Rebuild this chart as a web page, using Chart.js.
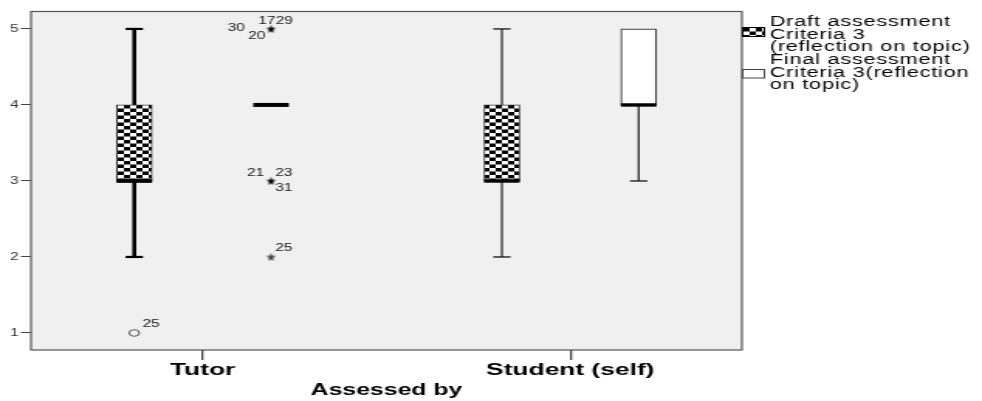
<!DOCTYPE html>
<html>
<head>
<meta charset="utf-8">
<script src="https://cdn.jsdelivr.net/npm/chart.js@4/dist/chart.umd.min.js"></script>
<style>
html,body{margin:0;padding:0;background:#fff;overflow:hidden;}
#wrap{width:982px;height:401px;overflow:hidden;}
#c{display:block;transform:scaleX(1.5489);transform-origin:0 0;}
</style>
</head>
<body>
<div id="wrap"><canvas id="c" width="634" height="401"></canvas></div>
<script>
// ---------------- data ----------------
const categories = ['Tutor', 'Student (self)'];
const yTickValues = [1, 2, 3, 4, 5];

const draftMin    = [2, 2];
const draftQ1     = [3, 3];
const draftMedian = [3, 3];
const draftQ3     = [4, 4];
const draftMax    = [5, 5];

const finalMin    = [4, 3];
const finalQ1     = [4, 4];
const finalMedian = [4, 4];
const finalQ3     = [4, 5];
const finalMax    = [4, 5];

// outliers (circle) of the draft series, Tutor group
const tutorDraftOutliers   = [1];
const tutorDraftOutlierIds = [['25']];
// extremes (star) of the final series, Tutor group
const tutorFinalExtremes   = [5, 3, 2];
const tutorFinalExtremeIds = [['17', '29', '30', '20'], ['21', '23', '31'], ['25']];

const seriesNames = [
  ['Draft assessment', 'Criteria 3', '(reflection on topic)'],
  ['Final assessment', 'Criteria 3(reflection', 'on topic)']
];
const axisTitle = 'Assessed by';

// ---------------- styles / layout ----------------
const SHIFT = 0.186;
const BOX_W = 23;
const seriesX = (i, s) => i + (s === 0 ? -SHIFT : SHIFT);
const FONT = '"Liberation Sans", Arial, sans-serif';

const canvas = document.getElementById('c');
const ctx0 = canvas.getContext('2d');

function makeChecker() {
  const c = document.createElement('canvas');
  c.width = 8; c.height = 7;
  const g = c.getContext('2d');
  g.fillStyle = '#fff'; g.fillRect(0, 0, 8, 7);
  g.fillStyle = '#000';
  g.fillRect(0, 0, 4, 3.5);
  g.fillRect(4, 3.5, 4, 3.5);
  return ctx0.createPattern(c, 'repeat');
}
const checker = makeChecker();

function starImg(color) {
  const c = document.createElement('canvas');
  c.width = 9; c.height = 9;
  const g = c.getContext('2d');
  g.fillStyle = color;
  g.beginPath();
  for (let k = 0; k < 10; k++) {
    const r = k % 2 ? 1.9 : 4.4;
    const a = -Math.PI / 2 + k * Math.PI / 5;
    g.lineTo(4.5 + r * Math.cos(a) * 0.72, 4.9 + r * Math.sin(a));
  }
  g.closePath();
  g.fill();
  return c;
}
const starDark = starImg('#000');
const starLight = starImg('#444');

const whiskerStyle = [
  [{ color: '#000', w: 2.6, capW: 2.2 }, { color: '#222', w: 1.2, capW: 1.4 }],
  [{ color: '#000', w: 2.6, capW: 2.2 }, { color: '#222', w: 1.2, capW: 1.4 }]
];
const medianWidth = [[3.8, 3.5], [4, 3.4]];

const draftOutlierLabelPos = [[[5.2, -9, 'left']]];
const finalExtremeLabelPos = [
  [[-8.3, -8, 'left'], [2.9, -8, 'left'], [-16.9, -1, 'right'], [-14.7, 7, 'left']],
  [[-15.5, -8, 'left'], [2.8, -8, 'left'], [2.8, 7.5, 'left']],
  [[2.8, -9, 'left']]
];

const boxParts = {
  id: 'boxParts',
  beforeDraw(chart) {
    const { ctx, chartArea: a } = chart;
    ctx.save();
    ctx.fillStyle = '#f0f0f0';
    ctx.fillRect(a.left, a.top, a.right - a.left, a.bottom - a.top);
    ctx.restore();
  },
  afterDatasetsDraw(chart) {
    const { ctx } = chart;
    const xs = chart.scales.x, ys = chart.scales.y;
    const series = [
      { min: draftMin, q1: draftQ1, med: draftMedian, q3: draftQ3, max: draftMax },
      { min: finalMin, q1: finalQ1, med: finalMedian, q3: finalQ3, max: finalMax }
    ];
    const capHalf = 5.6;
    series.forEach((s, si) => {
      categories.forEach((c, i) => {
        const px = xs.getPixelForValue(seriesX(i, si));
        const st = whiskerStyle[si][i];
        ctx.save();
        ctx.strokeStyle = st.color;
        ctx.lineCap = 'butt';
        const seg = (x1, y1, x2, y2, w) => {
          ctx.lineWidth = w;
          ctx.beginPath(); ctx.moveTo(x1, y1); ctx.lineTo(x2, y2); ctx.stroke();
        };
        if (s.max[i] > s.q3[i]) {
          const yt = ys.getPixelForValue(s.max[i]);
          seg(px, ys.getPixelForValue(s.q3[i]), px, yt, st.w);
          seg(px - capHalf, yt, px + capHalf, yt, st.capW);
        }
        if (s.min[i] < s.q1[i]) {
          const yb = ys.getPixelForValue(s.min[i]);
          seg(px, ys.getPixelForValue(s.q1[i]), px, yb, st.w);
          seg(px - capHalf, yb, px + capHalf, yb, st.capW);
        }
        ctx.strokeStyle = '#000';
        const ym = ys.getPixelForValue(s.med[i]);
        seg(px - BOX_W / 2, ym, px + BOX_W / 2, ym, medianWidth[si][i]);
        ctx.restore();
      });
    });
    // outlier / extreme labels
    ctx.save();
    ctx.font = '10px ' + FONT;
    ctx.fillStyle = '#222';
    ctx.textBaseline = 'middle';
    const drawLabels = (vals, ids, pos, xVal) => {
      vals.forEach((v, k) => {
        const px = xs.getPixelForValue(xVal);
        const py = ys.getPixelForValue(v);
        ids[k].forEach((t, j) => {
          const p = pos[k][j];
          ctx.textAlign = p[2];
          ctx.fillText(t, px + p[0], py + p[1]);
        });
      });
    };
    drawLabels(tutorDraftOutliers, tutorDraftOutlierIds, draftOutlierLabelPos, seriesX(0, 0));
    drawLabels(tutorFinalExtremes, tutorFinalExtremeIds, finalExtremeLabelPos, seriesX(0, 1));
    ctx.restore();
  },
  afterDraw(chart) {
    const { ctx, chartArea: a } = chart;
    ctx.save();
    ctx.strokeStyle = '#555';
    ctx.lineWidth = 1.2;
    ctx.strokeRect(a.left, a.top + 0.5, a.right - a.left, a.bottom - a.top - 0.5);
    // legend
    const px = a.right, pw = 15;
    ctx.fillStyle = checker;
    ctx.fillRect(px, 27, pw, 10);
    ctx.strokeStyle = '#000'; ctx.lineWidth = 1;
    ctx.strokeRect(px + 0.5, 27.5, pw - 1, 9);
    ctx.fillStyle = '#fff';
    ctx.fillRect(px, 69, pw, 9);
    ctx.strokeStyle = '#444';
    ctx.strokeRect(px + 0.5, 69.5, pw - 1, 8.5);
    ctx.fillStyle = '#000';
    ctx.font = '14px ' + FONT;
    try { ctx.letterSpacing = '0.5px'; } catch (e) {}
    ctx.textAlign = 'left';
    ctx.textBaseline = 'middle';
    let line = 0;
    seriesNames.forEach(lines => lines.forEach(t => {
      ctx.fillText(t, 497, 22 + line * 12.7);
      line++;
    }));
    ctx.restore();
  }
};

const boxData = (q1, q3, s) => categories.map((c, i) => ({ x: seriesX(i, s), y: [q1[i], q3[i]] }));

new Chart(canvas, {
  type: 'bar',
  data: {
    datasets: [
      {
        label: seriesNames[0].join(' '),
        data: boxData(draftQ1, draftQ3, 0),
        backgroundColor: checker,
        borderColor: '#333',
        borderWidth: 1,
        borderSkipped: false,
        barThickness: BOX_W,
        grouped: false
      },
      {
        label: seriesNames[1].join(' '),
        data: boxData(finalQ1, finalQ3, 1),
        backgroundColor: '#fff',
        borderColor: '#444',
        borderWidth: 1.2,
        borderSkipped: false,
        barThickness: BOX_W,
        grouped: false
      },
      {
        type: 'scatter',
        label: 'outliers',
        data: tutorDraftOutliers.map(v => ({ x: seriesX(0, 0), y: v })),
        pointStyle: 'circle',
        pointRadius: 3.3,
        backgroundColor: 'rgba(0,0,0,0)',
        borderColor: '#555',
        borderWidth: 1
      },
      {
        type: 'scatter',
        label: 'extremes',
        data: tutorFinalExtremes.map(v => ({ x: seriesX(0, 1), y: v })),
        pointStyle: tutorFinalExtremeIds.map(ids => ids.length > 1 ? starDark : starLight),
        pointRadius: 5
      }
    ]
  },
  options: {
    responsive: false,
    animation: false,
    devicePixelRatio: 1,
    layout: { padding: { top: 11, right: 155, bottom: 0, left: 0 } },
    plugins: { legend: { display: false }, tooltip: { enabled: false } },
    scales: {
      x: {
        type: 'linear',
        min: -0.467,
        max: 1.467,
        offset: false,
        afterBuildTicks: s => { s.ticks = categories.map((c, i) => ({ value: i })); },
        afterFit: s => { s.height = 51; },
        ticks: {
          autoSkip: false,
          maxRotation: 0,
          padding: 0,
          color: '#000',
          font: { family: FONT, size: 17, weight: 'bold' },
          callback: v => categories[v]
        },
        grid: { offset: false, drawOnChartArea: false, drawTicks: true, tickLength: 10, color: '#444', lineWidth: 1.3 },
        border: { display: false },
        title: {
          display: true,
          text: axisTitle,
          color: '#000',
          font: { family: FONT, size: 16, weight: 'bold' },
          padding: { top: 0, bottom: 1 }
        }
      },
      y: {
        type: 'linear',
        min: 0.776,
        max: 5.236,
        afterBuildTicks: s => { s.ticks = yTickValues.map(v => ({ value: v })); },
        afterFit: s => { s.width = 20; },
        ticks: {
          padding: 1.5,
          color: '#333',
          font: { family: FONT, size: 10 },
          callback: v => String(v)
        },
        grid: { drawOnChartArea: false, drawTicks: true, tickLength: 6.5, color: '#444', lineWidth: 1 },
        border: { display: false }
      }
    }
  },
  plugins: [boxParts]
});
</script>
</body>
</html>
